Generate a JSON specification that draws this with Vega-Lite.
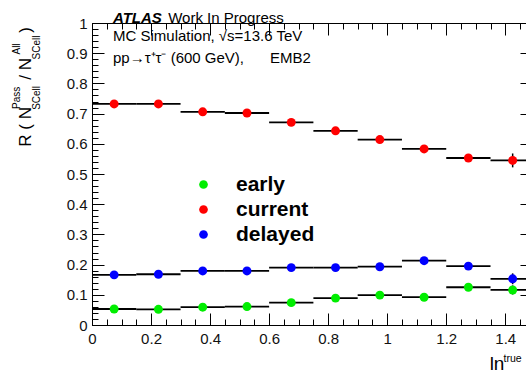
{
  "$schema": "https://vega.github.io/schema/vega-lite/v6.json",
  "width": 434,
  "height": 302,
  "autosize": {"type": "none"},
  "padding": {"left": 92, "top": 23, "right": 0, "bottom": 50},
  "background": "white",
  "config": {
    "view": {"stroke": null},
    "axis": {"labelFont": "Liberation Sans", "labelFontSize": 15, "labelColor": "#111111", "tickColor": "black", "domainColor": "black", "grid": false, "tickWidth": 1, "domainWidth": 1},
    "text": {"font": "Liberation Sans", "color": "black"}
  },
  "datasets": {
    "bins": [
      {"series": "current", "x": 0.075, "xlo": 0.0, "xhi": 0.15, "y": 0.732, "ylo": 0.728, "yhi": 0.736},
      {"series": "current", "x": 0.225, "xlo": 0.15, "xhi": 0.3, "y": 0.732, "ylo": 0.728, "yhi": 0.736},
      {"series": "current", "x": 0.375, "xlo": 0.3, "xhi": 0.45, "y": 0.706, "ylo": 0.702, "yhi": 0.71},
      {"series": "current", "x": 0.525, "xlo": 0.45, "xhi": 0.6, "y": 0.702, "ylo": 0.698, "yhi": 0.706},
      {"series": "current", "x": 0.675, "xlo": 0.6, "xhi": 0.75, "y": 0.671, "ylo": 0.666, "yhi": 0.676},
      {"series": "current", "x": 0.825, "xlo": 0.75, "xhi": 0.9, "y": 0.643, "ylo": 0.638, "yhi": 0.648},
      {"series": "current", "x": 0.975, "xlo": 0.9, "xhi": 1.05, "y": 0.614, "ylo": 0.608, "yhi": 0.62},
      {"series": "current", "x": 1.125, "xlo": 1.05, "xhi": 1.2, "y": 0.583, "ylo": 0.575, "yhi": 0.591},
      {"series": "current", "x": 1.275, "xlo": 1.2, "xhi": 1.35, "y": 0.553, "ylo": 0.543, "yhi": 0.563},
      {"series": "current", "x": 1.425, "xlo": 1.35, "xhi": 1.5, "y": 0.545, "ylo": 0.522, "yhi": 0.568},
      {"series": "delayed", "x": 0.075, "xlo": 0.0, "xhi": 0.15, "y": 0.166, "ylo": 0.163, "yhi": 0.169},
      {"series": "delayed", "x": 0.225, "xlo": 0.15, "xhi": 0.3, "y": 0.168, "ylo": 0.165, "yhi": 0.171},
      {"series": "delayed", "x": 0.375, "xlo": 0.3, "xhi": 0.45, "y": 0.179, "ylo": 0.176, "yhi": 0.182},
      {"series": "delayed", "x": 0.525, "xlo": 0.45, "xhi": 0.6, "y": 0.179, "ylo": 0.176, "yhi": 0.182},
      {"series": "delayed", "x": 0.675, "xlo": 0.6, "xhi": 0.75, "y": 0.19, "ylo": 0.187, "yhi": 0.193},
      {"series": "delayed", "x": 0.825, "xlo": 0.75, "xhi": 0.9, "y": 0.19, "ylo": 0.186, "yhi": 0.194},
      {"series": "delayed", "x": 0.975, "xlo": 0.9, "xhi": 1.05, "y": 0.193, "ylo": 0.189, "yhi": 0.197},
      {"series": "delayed", "x": 1.125, "xlo": 1.05, "xhi": 1.2, "y": 0.213, "ylo": 0.207, "yhi": 0.219},
      {"series": "delayed", "x": 1.275, "xlo": 1.2, "xhi": 1.35, "y": 0.195, "ylo": 0.187, "yhi": 0.203},
      {"series": "delayed", "x": 1.425, "xlo": 1.35, "xhi": 1.5, "y": 0.153, "ylo": 0.135, "yhi": 0.171},
      {"series": "early", "x": 0.075, "xlo": 0.0, "xhi": 0.15, "y": 0.053, "ylo": 0.051, "yhi": 0.055},
      {"series": "early", "x": 0.225, "xlo": 0.15, "xhi": 0.3, "y": 0.052, "ylo": 0.05, "yhi": 0.054},
      {"series": "early", "x": 0.375, "xlo": 0.3, "xhi": 0.45, "y": 0.059, "ylo": 0.057, "yhi": 0.061},
      {"series": "early", "x": 0.525, "xlo": 0.45, "xhi": 0.6, "y": 0.061, "ylo": 0.059, "yhi": 0.063},
      {"series": "early", "x": 0.675, "xlo": 0.6, "xhi": 0.75, "y": 0.074, "ylo": 0.071, "yhi": 0.077},
      {"series": "early", "x": 0.825, "xlo": 0.75, "xhi": 0.9, "y": 0.089, "ylo": 0.086, "yhi": 0.092},
      {"series": "early", "x": 0.975, "xlo": 0.9, "xhi": 1.05, "y": 0.099, "ylo": 0.095, "yhi": 0.103},
      {"series": "early", "x": 1.125, "xlo": 1.05, "xhi": 1.2, "y": 0.092, "ylo": 0.087, "yhi": 0.097},
      {"series": "early", "x": 1.275, "xlo": 1.2, "xhi": 1.35, "y": 0.125, "ylo": 0.117, "yhi": 0.133},
      {"series": "early", "x": 1.425, "xlo": 1.35, "xhi": 1.5, "y": 0.116, "ylo": 0.101, "yhi": 0.131}
    ]
  },
  "resolve": {"axis": {"x": "independent", "y": "independent"}},
  "layer": [
    {
      "data": {"name": "bins"},
      "mark": {"type": "rule", "color": "black", "strokeWidth": 1.8},
      "encoding": {
        "x": {"field": "xlo", "type": "quantitative", "scale": {"domain": [0, 1.4702], "nice": false, "zero": false},
          "axis": {"orient": "bottom", "title": null, "values": [0, 0.2, 0.4, 0.6, 0.8, 1, 1.2, 1.4], "format": "~g", "tickSize": -12, "labelPadding": 18, "domain": true, "labelFlush": false, "labelOverlap": false}},
        "x2": {"field": "xhi"},
        "y": {"field": "y", "type": "quantitative", "scale": {"domain": [0, 1], "nice": false, "zero": false},
          "axis": {"orient": "left", "title": null, "values": [0, 0.1, 0.2, 0.3, 0.4, 0.5, 0.6, 0.7, 0.8, 0.9, 1], "format": "~g", "tickSize": -12, "labelPadding": 17, "domain": true, "labelFlush": false, "labelOverlap": false}}
      }
    },
    {
      "data": {"name": "bins"},
      "mark": {"type": "rule", "color": "black", "strokeWidth": 1.5},
      "encoding": {
        "x": {"field": "x", "type": "quantitative", "scale": {"domain": [0, 1.4702], "nice": false, "zero": false},
          "axis": {"orient": "bottom", "title": null, "values": [0, 0.05, 0.1, 0.15, 0.2, 0.25, 0.3, 0.35, 0.4, 0.45, 0.5, 0.55, 0.6, 0.65, 0.7, 0.75, 0.8, 0.85, 0.9, 0.95, 1, 1.05, 1.1, 1.15, 1.2, 1.25, 1.3, 1.35, 1.4, 1.45], "tickSize": -6, "labels": false, "domain": false}},
        "y": {"field": "ylo", "type": "quantitative", "scale": {"domain": [0, 1], "nice": false, "zero": false},
          "axis": {"orient": "left", "title": null, "values": [0, 0.02, 0.04, 0.06, 0.08, 0.1, 0.12, 0.14, 0.16, 0.18, 0.2, 0.22, 0.24, 0.26, 0.28, 0.3, 0.32, 0.34, 0.36, 0.38, 0.4, 0.42, 0.44, 0.46, 0.48, 0.5, 0.52, 0.54, 0.56, 0.58, 0.6, 0.62, 0.64, 0.66, 0.68, 0.7, 0.72, 0.74, 0.76, 0.78, 0.8, 0.82, 0.84, 0.86, 0.88, 0.9, 0.92, 0.94, 0.96, 0.98, 1], "tickSize": -6, "labels": false, "domain": false}},
        "y2": {"field": "yhi"}
      }
    },
    {
      "data": {"name": "bins"},
      "mark": {"type": "point", "filled": true, "opacity": 1, "size": 80, "shape": "circle"},
      "encoding": {
        "x": {"field": "x", "type": "quantitative", "scale": {"domain": [0, 1.4702], "nice": false, "zero": false},
          "axis": {"orient": "top", "title": null, "values": [0, 0.2, 0.4, 0.6, 0.8, 1, 1.2, 1.4], "tickSize": -12, "labels": false, "domain": true}},
        "y": {"field": "y", "type": "quantitative", "scale": {"domain": [0, 1], "nice": false, "zero": false},
          "axis": {"orient": "right", "title": null, "values": [0, 0.1, 0.2, 0.3, 0.4, 0.5, 0.6, 0.7, 0.8, 0.9, 1], "tickSize": -12, "offset": 6, "labels": false, "domain": false}},
        "color": {"field": "series", "type": "nominal",
          "scale": {"domain": ["early", "current", "delayed"], "range": ["#00ee00", "#ff0000", "#0000ff"]},
          "legend": {"orient": "none", "legendX": 101, "legendY": 151, "title": null, "padding": 0, "labelFont": "Liberation Sans", "labelFontSize": 21, "labelFontWeight": "bold", "labelColor": "black", "symbolSize": 75, "symbolType": "circle", "symbolStrokeWidth": 0, "labelOffset": 22, "rowPadding": 3}}
      }
    },
    {
      "data": {"values": [{}]},
      "mark": {"type": "text", "text": "ATLAS", "fontSize": 15, "fontWeight": "bold", "fontStyle": "italic", "align": "left", "baseline": "alphabetic"},
      "encoding": {
        "x": {"datum": 0.071, "type": "quantitative", "scale": {"domain": [0, 1.4702], "nice": false, "zero": false},
          "axis": {"orient": "top", "title": null, "values": [0, 0.05, 0.1, 0.15, 0.2, 0.25, 0.3, 0.35, 0.4, 0.45, 0.5, 0.55, 0.6, 0.65, 0.7, 0.75, 0.8, 0.85, 0.9, 0.95, 1, 1.05, 1.1, 1.15, 1.2, 1.25, 1.3, 1.35, 1.4, 1.45], "tickSize": -6, "labels": false, "domain": false}},
        "y": {"datum": 1.0, "type": "quantitative", "scale": {"domain": [0, 1], "nice": false, "zero": false}, "axis": null}
      }
    },
    {
      "data": {"values": [{}]},
      "mark": {"type": "text", "text": "Work In Progress", "fontSize": 15, "align": "left", "baseline": "alphabetic"},
      "encoding": {
        "x": {"datum": 0.258, "type": "quantitative", "scale": {"domain": [0, 1.4702], "nice": false, "zero": false}, "axis": null},
        "y": {"datum": 1.0, "type": "quantitative", "scale": {"domain": [0, 1], "nice": false, "zero": false}, "axis": null}
      }
    },
    {
      "data": {"values": [{}]},
      "mark": {"type": "text", "text": "MC Simulation, √s=13.6 TeV", "fontSize": 15, "align": "left", "baseline": "alphabetic"},
      "encoding": {
        "x": {"datum": 0.071, "type": "quantitative", "scale": {"domain": [0, 1.4702], "nice": false, "zero": false}, "axis": null},
        "y": {"datum": 0.94, "type": "quantitative", "scale": {"domain": [0, 1], "nice": false, "zero": false}, "axis": null}
      }
    },
    {
      "data": {"values": [{}]},
      "mark": {"type": "text", "text": "pp→τ⁺τ⁻ (600 GeV),", "fontSize": 15, "align": "left", "baseline": "alphabetic"},
      "encoding": {
        "x": {"datum": 0.071, "type": "quantitative", "scale": {"domain": [0, 1.4702], "nice": false, "zero": false}, "axis": null},
        "y": {"datum": 0.866, "type": "quantitative", "scale": {"domain": [0, 1], "nice": false, "zero": false}, "axis": null}
      }
    },
    {
      "data": {"values": [{}]},
      "mark": {"type": "text", "text": "EMB2", "fontSize": 15, "align": "left", "baseline": "alphabetic"},
      "encoding": {
        "x": {"datum": 0.603, "type": "quantitative", "scale": {"domain": [0, 1.4702], "nice": false, "zero": false}, "axis": null},
        "y": {"datum": 0.866, "type": "quantitative", "scale": {"domain": [0, 1], "nice": false, "zero": false}, "axis": null}
      }
    },
    {
      "data": {"values": [{}]},
      "mark": {"type": "text", "text": "R ( N", "fontSize": 17, "angle": 270, "align": "center", "baseline": "middle"},
      "encoding": {
        "x": {"datum": -0.2237, "type": "quantitative", "scale": {"domain": [0, 1.4702], "nice": false, "zero": false}, "axis": null},
        "y": {"datum": 0.656, "type": "quantitative", "scale": {"domain": [0, 1], "nice": false, "zero": false}, "axis": null}
      }
    },
    {
      "data": {"values": [{}]},
      "mark": {"type": "text", "text": "/ N", "fontSize": 17, "angle": 270, "align": "center", "baseline": "middle"},
      "encoding": {
        "x": {"datum": -0.2237, "type": "quantitative", "scale": {"domain": [0, 1.4702], "nice": false, "zero": false}, "axis": null},
        "y": {"datum": 0.848, "type": "quantitative", "scale": {"domain": [0, 1], "nice": false, "zero": false}, "axis": null}
      }
    },
    {
      "data": {"values": [{}]},
      "mark": {"type": "text", "text": ")", "fontSize": 17, "angle": 270, "align": "center", "baseline": "middle"},
      "encoding": {
        "x": {"datum": -0.2237, "type": "quantitative", "scale": {"domain": [0, 1.4702], "nice": false, "zero": false}, "axis": null},
        "y": {"datum": 0.977, "type": "quantitative", "scale": {"domain": [0, 1], "nice": false, "zero": false}, "axis": null}
      }
    },
    {
      "data": {"values": [{}]},
      "mark": {"type": "text", "text": "Pass", "fontSize": 10, "angle": 270, "align": "center", "baseline": "middle"},
      "encoding": {
        "x": {"datum": -0.254, "type": "quantitative", "scale": {"domain": [0, 1.4702], "nice": false, "zero": false}, "axis": null},
        "y": {"datum": 0.752, "type": "quantitative", "scale": {"domain": [0, 1], "nice": false, "zero": false}, "axis": null}
      }
    },
    {
      "data": {"values": [{}]},
      "mark": {"type": "text", "text": "SCell", "fontSize": 10, "angle": 270, "align": "center", "baseline": "middle"},
      "encoding": {
        "x": {"datum": -0.186, "type": "quantitative", "scale": {"domain": [0, 1.4702], "nice": false, "zero": false}, "axis": null},
        "y": {"datum": 0.752, "type": "quantitative", "scale": {"domain": [0, 1], "nice": false, "zero": false}, "axis": null}
      }
    },
    {
      "data": {"values": [{}]},
      "mark": {"type": "text", "text": "All", "fontSize": 10, "angle": 270, "align": "center", "baseline": "middle"},
      "encoding": {
        "x": {"datum": -0.254, "type": "quantitative", "scale": {"domain": [0, 1.4702], "nice": false, "zero": false}, "axis": null},
        "y": {"datum": 0.914, "type": "quantitative", "scale": {"domain": [0, 1], "nice": false, "zero": false}, "axis": null}
      }
    },
    {
      "data": {"values": [{}]},
      "mark": {"type": "text", "text": "SCell", "fontSize": 10, "angle": 270, "align": "center", "baseline": "middle"},
      "encoding": {
        "x": {"datum": -0.186, "type": "quantitative", "scale": {"domain": [0, 1.4702], "nice": false, "zero": false}, "axis": null},
        "y": {"datum": 0.919, "type": "quantitative", "scale": {"domain": [0, 1], "nice": false, "zero": false}, "axis": null}
      }
    },
    {
      "data": {"values": [{}]},
      "mark": {"type": "text", "text": "ln", "fontSize": 19, "align": "left", "baseline": "alphabetic"},
      "encoding": {
        "x": {"datum": 1.347, "type": "quantitative", "scale": {"domain": [0, 1.4702], "nice": false, "zero": false}, "axis": null},
        "y": {"datum": -0.148, "type": "quantitative", "scale": {"domain": [0, 1], "nice": false, "zero": false}, "axis": null}
      }
    },
    {
      "data": {"values": [{}]},
      "mark": {"type": "text", "text": "true", "fontSize": 10.5, "align": "left", "baseline": "alphabetic"},
      "encoding": {
        "x": {"datum": 1.394, "type": "quantitative", "scale": {"domain": [0, 1.4702], "nice": false, "zero": false}, "axis": null},
        "y": {"datum": -0.121, "type": "quantitative", "scale": {"domain": [0, 1], "nice": false, "zero": false}, "axis": null}
      }
    }
  ]
}
